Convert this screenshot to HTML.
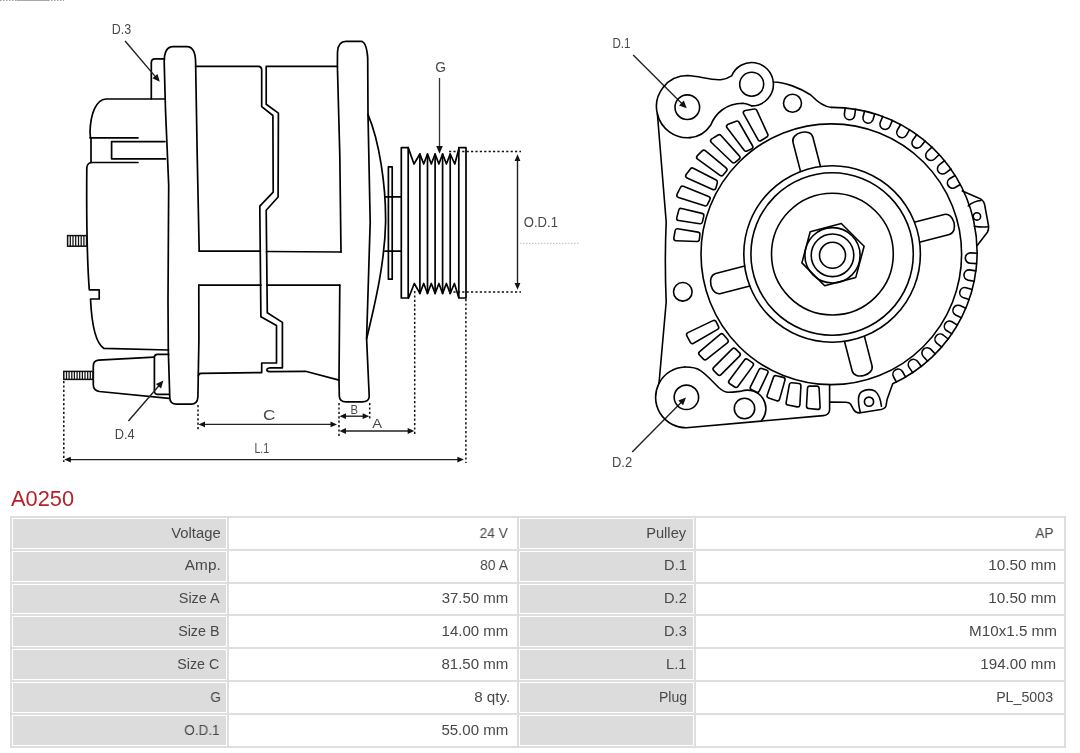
<!DOCTYPE html>
<html><head><meta charset="utf-8"><style>
html,body{margin:0;padding:0;background:#fff;width:1080px;height:753px;overflow:hidden;position:relative}
body{font-family:"Liberation Sans",sans-serif}
.title,.t{will-change:transform}
svg{position:absolute;left:0;top:0}
text{font-family:"Liberation Sans",sans-serif}
.title{position:absolute;left:11px;top:486.5px;font-size:21.8px;line-height:24px;color:#b8202a;transform-origin:0 0}
.tb{position:absolute;left:10px;top:516px;width:1056px;height:231.5px;background:#dedede}
.c{position:absolute;border:1px solid #fff;box-sizing:content-box;font-size:14px;color:#454545;text-align:right}
.t{position:absolute;font-size:14px;line-height:16px;color:#484848;white-space:nowrap;transform-origin:100% 50%}
</style></head><body>
<svg width="1080" height="480" viewBox="0 0 1080 480">
<path d="M0,0.5 L17,0.5 M48,0.5 L64,0.5" stroke="#999" stroke-width="1" stroke-dasharray="1.5,1.5"/><path d="M17,0.5 L48,0.5" stroke="#aaa" stroke-width="1"/>
<g fill="none" stroke="#000" stroke-width="1.7" stroke-linejoin="round" stroke-linecap="round">
<path d="M164.5,99 L106,99 C96,99.5 90.5,114 90,132 L90.5,138"/>
<path d="M90,137.8 L138,137.8"/>
<path d="M165,141.6 L111.6,141.6 L111.6,158.8 L165.5,158.8"/>
<path d="M91,138 L91,162.5"/>
<path d="M91,162.5 L138,162.5"/>
<path d="M91,162.5 Q87,163.5 86.8,168 C86.4,215 87.2,262 89.3,289.9 L99.2,289.9 L99.2,299 L90.5,299 C91.5,320 95,343 104,348.4 L168.5,350"/>
<path d="M164.5,58.9 L155,58.9 Q151.3,58.9 151.3,63 L151.3,98.8"/>
<path d="M199.2,251.2 L197.2,155 L195.6,62 Q195.4,46.8 187,46.6 L173,46.6 Q164.2,46.6 164.2,62 L165.5,110 L168.7,185 L168,300 L168.3,350 L169.8,398 Q170,404.2 176.5,404.2 L191,404.2 Q197.5,404.2 197.9,397 L198.3,374 L198.9,340 L198.8,285.2"/>
<path d="M154.2,357.2 L98.5,360.2 Q93.3,360.8 93.3,366 L93.3,385 Q93.5,390.5 99.4,391.5 L169,398.3"/>
<path d="M168.6,354.4 L157.5,354.4 Q154.4,354.5 154.4,357.5 L154.4,391 Q154.6,394.4 158,394.4 L168.9,394.4"/>
<path d="M195.6,66.4 L258.5,66.4 Q261.7,66.6 261.7,70 L261.7,106.7 L272.9,115.5 L273.2,192.2 L259.8,206.1 L260.9,316.8 L276.5,325.6 L276.5,363 L261.7,363 L261.7,372.6 L201,373.3 Q198.6,373.6 198.3,376"/>
<path d="M337.4,66.4 L266.2,66.4 L266.2,104.3 L278.4,113.1 L278.1,197 L266.2,210.2 L267.3,312.8 L282.4,322.4 L282.4,367.8 L270,367.8 Q266.5,368.3 267,370.5 Q267.8,371.8 270.5,371.6 L305.5,371.3 L339,380.1"/>
<path d="M199.2,251.2 L259.8,251.2"/>
<path d="M266.4,251.5 L341.1,252"/>
<path d="M198.8,285.2 L260.9,285.2"/>
<path d="M267.1,285.2 L339.8,285.2"/>
<path d="M341,252 L339.8,155 L337.4,66 L337.5,52 Q338,41.4 346,41.4 L361,41.4 Q366.5,41.6 367.7,57.9 L368,114.7 L370.2,222 L366.6,338.7 L369.2,396 Q369.4,401.8 362,401.8 L346,401.8 Q339.5,401.8 339.3,396 L339,380 L339.8,285.2"/>
<path d="M368,114.7 C379,140 386,185 385.6,222 C385,260 376,300 366.6,338.7"/>
<path d="M385.5,196.9 L401.3,196.9 M385,251.2 L401.3,251.2"/>
<path d="M388.4,279.2 L388.4,166.9 L392.2,166.9 L392.2,279.2 Z"/>
<path d="M401.3,298 L401.3,147.6 L408.2,147.6 L408.2,298 Z"/>
<path d="M458.8,298 L458.8,147.6 L466,147.6 L466,298 Z"/>
<path d="M408.2,147.6 L414,164 L419.9,154 L423.7,164 L427.5,154 L431.3,164 L435.1,154 L438.9,164 L442.6,154 L446.4,164 L450.2,154 L454.8,164 L458.8,149"/>
<path d="M408.6,298 L414.3,283.5 L419.9,293.4 L423.7,283.5 L427.5,293.4 L431.3,283.5 L435.1,293.4 L438.9,283.5 L442.6,293.4 L446.4,283.5 L450.2,293.4 L454.4,283.5 L458.6,297"/>
<path d="M419.9,154 L419.9,293.4"/>
<path d="M427.5,154 L427.5,293.4"/>
<path d="M435.1,154 L435.1,293.4"/>
<path d="M442.6,154 L442.6,293.4"/>
<path d="M450.2,154 L450.2,293.4"/>
</g>
<rect x="67.6" y="235.6" width="19.0" height="10.6" fill="none" stroke="#111" stroke-width="1.5"/><path d="M70.3,235.6 L70.3,246.2" stroke="#111" stroke-width="1.25"/><path d="M73.0,235.6 L73.0,246.2" stroke="#111" stroke-width="1.25"/><path d="M75.7,235.6 L75.7,246.2" stroke="#111" stroke-width="1.25"/><path d="M78.5,235.6 L78.5,246.2" stroke="#111" stroke-width="1.25"/><path d="M81.2,235.6 L81.2,246.2" stroke="#111" stroke-width="1.25"/><path d="M83.9,235.6 L83.9,246.2" stroke="#111" stroke-width="1.25"/>
<rect x="63.8" y="371.4" width="29.2" height="8.0" fill="none" stroke="#111" stroke-width="1.5"/><path d="M66.5,371.4 L66.5,379.4" stroke="#111" stroke-width="1.25"/><path d="M69.1,371.4 L69.1,379.4" stroke="#111" stroke-width="1.25"/><path d="M71.8,371.4 L71.8,379.4" stroke="#111" stroke-width="1.25"/><path d="M74.4,371.4 L74.4,379.4" stroke="#111" stroke-width="1.25"/><path d="M77.1,371.4 L77.1,379.4" stroke="#111" stroke-width="1.25"/><path d="M79.7,371.4 L79.7,379.4" stroke="#111" stroke-width="1.25"/><path d="M82.4,371.4 L82.4,379.4" stroke="#111" stroke-width="1.25"/><path d="M85.0,371.4 L85.0,379.4" stroke="#111" stroke-width="1.25"/><path d="M87.7,371.4 L87.7,379.4" stroke="#111" stroke-width="1.25"/><path d="M90.3,371.4 L90.3,379.4" stroke="#111" stroke-width="1.25"/>
<g fill="none" stroke="#111" stroke-width="1.5" stroke-dasharray="2.2,2.2">
<path d="M63.8,381 L63.8,462"/>
<path d="M198,405 L198,430"/>
<path d="M339,403 L339,436"/>
<path d="M369.7,403 L369.7,420"/>
<path d="M414.7,291 L414.7,436"/>
<path d="M465.9,299 L465.9,463"/>
<path d="M449,151.6 L521,151.6"/>
<path d="M449,291.9 L521,291.9"/>
</g>
<path d="M520,243.3 L580,243.3" stroke="#bbb" stroke-width="1" stroke-dasharray="1.5,1.5" fill="none"/>
<path d="M203.5,424.4 L332,424.4" stroke="#222" stroke-width="1.4" fill="none"/><path d="M198.5,424.4 L205.0,421.5 L205.0,427.29999999999995 Z" fill="#111"/><path d="M337,424.4 L330.5,421.5 L330.5,427.29999999999995 Z" fill="#111"/>
<path d="M344.5,416.2 L364.2,416.2" stroke="#222" stroke-width="1.4" fill="none"/><path d="M339.5,416.2 L346.0,413.3 L346.0,419.09999999999997 Z" fill="#111"/><path d="M369.2,416.2 L362.7,413.3 L362.7,419.09999999999997 Z" fill="#111"/>
<path d="M344.5,431 L409.2,431" stroke="#222" stroke-width="1.4" fill="none"/><path d="M339.5,431 L346.0,428.1 L346.0,433.9 Z" fill="#111"/><path d="M414.2,431 L407.7,428.1 L407.7,433.9 Z" fill="#111"/>
<path d="M69.3,459.6 L458.9,459.6" stroke="#222" stroke-width="1.4" fill="none"/><path d="M64.3,459.6 L70.8,456.70000000000005 L70.8,462.5 Z" fill="#111"/><path d="M463.9,459.6 L457.4,456.70000000000005 L457.4,462.5 Z" fill="#111"/>
<path d="M517.5,160 L517.5,284" stroke="#222" stroke-width="1.4" fill="none"/>
<path d="M517.5,154.3 L514.6,161 L520.4,161 Z" fill="#111"/>
<path d="M517.5,289.7 L514.6,283 L520.4,283 Z" fill="#111"/>
<path d="M439.5,78 L439.5,148" stroke="#333" stroke-width="1.3" fill="none"/>
<path d="M439.5,153.8 L436.2,146 L442.8,146 Z" fill="#111"/>
<path d="M125.1,41.0 L156.2,77.6" stroke="#222" stroke-width="1.4" fill="none"/><path d="M159.8,81.8 L152.4,78.3 L157.5,73.9 Z" fill="#111"/>
<path d="M128.4,421.0 L159.8,384.7" stroke="#222" stroke-width="1.4" fill="none"/><path d="M163.4,380.5 L161.1,388.4 L155.9,384.0 Z" fill="#111"/>
<path d="M633.2,55.1 L682.8,104.4" stroke="#222" stroke-width="1.4" fill="none"/><path d="M686.7,108.3 L679.0,105.4 L683.8,100.6 Z" fill="#111"/>
<path d="M632.2,451.9 L682.1,401.4" stroke="#222" stroke-width="1.4" fill="none"/><path d="M686.0,397.5 L683.1,405.2 L678.3,400.4 Z" fill="#111"/>
<g fill="none" stroke="#000" stroke-width="6.2" stroke-linejoin="round">
<path d="M745.7,112.8 L754.7,111.3 L765.6,135.1 L760.0,138.6 Z"/>
<path d="M728.9,126.4 L737.0,123.4 L750.5,146.9 L746.0,148.9 Z"/>
<path d="M713.0,140.8 L719.3,137.0 L737.6,157.4 L733.7,160.6 Z"/>
<path d="M699.0,157.3 L703.8,152.5 L724.6,169.7 L721.4,173.5 Z"/>
<path d="M688.0,175.8 L692.2,170.3 L715.1,182.1 L713.7,187.4 Z"/>
<path d="M679.2,195.2 L682.5,188.5 L707.8,198.6 L705.3,203.6 Z"/>
<path d="M679.0,218.2 L681.0,210.7 L701.5,215.6 L700.2,221.4 Z"/>
<path d="M676.1,238.4 L677.4,231.1 L697.6,234.4 L697.1,239.2 Z"/>
<path d="M688.9,334.7 L692.4,341.3 L716.4,327.4 L714.0,322.7 Z"/>
<path d="M701.1,353.4 L705.1,357.5 L725.9,341.1 L721.6,336.1 Z"/>
<path d="M715.4,369.0 L719.4,373.0 L737.9,354.5 L733.9,350.5 Z"/>
<path d="M731.0,381.8 L736.0,385.1 L751.1,364.5 L746.3,361.3 Z"/>
<path d="M752.6,387.6 L757.3,389.9 L765.7,372.2 L761.1,370.7 Z"/>
<path d="M769.4,395.8 L777.4,398.5 L782.7,379.6 L775.7,377.9 Z"/>
<path d="M788.4,402.8 L797.6,404.6 L798.6,385.8 L791.6,385.0 Z"/>
<path d="M808.8,406.2 L817.8,407.1 L816.8,388.4 L809.8,388.4 Z"/>
</g><g fill="#fff" stroke="#fff" stroke-width="3.0" stroke-linejoin="round">
<path d="M745.7,112.8 L754.7,111.3 L765.6,135.1 L760.0,138.6 Z"/>
<path d="M728.9,126.4 L737.0,123.4 L750.5,146.9 L746.0,148.9 Z"/>
<path d="M713.0,140.8 L719.3,137.0 L737.6,157.4 L733.7,160.6 Z"/>
<path d="M699.0,157.3 L703.8,152.5 L724.6,169.7 L721.4,173.5 Z"/>
<path d="M688.0,175.8 L692.2,170.3 L715.1,182.1 L713.7,187.4 Z"/>
<path d="M679.2,195.2 L682.5,188.5 L707.8,198.6 L705.3,203.6 Z"/>
<path d="M679.0,218.2 L681.0,210.7 L701.5,215.6 L700.2,221.4 Z"/>
<path d="M676.1,238.4 L677.4,231.1 L697.6,234.4 L697.1,239.2 Z"/>
<path d="M688.9,334.7 L692.4,341.3 L716.4,327.4 L714.0,322.7 Z"/>
<path d="M701.1,353.4 L705.1,357.5 L725.9,341.1 L721.6,336.1 Z"/>
<path d="M715.4,369.0 L719.4,373.0 L737.9,354.5 L733.9,350.5 Z"/>
<path d="M731.0,381.8 L736.0,385.1 L751.1,364.5 L746.3,361.3 Z"/>
<path d="M752.6,387.6 L757.3,389.9 L765.7,372.2 L761.1,370.7 Z"/>
<path d="M769.4,395.8 L777.4,398.5 L782.7,379.6 L775.7,377.9 Z"/>
<path d="M788.4,402.8 L797.6,404.6 L798.6,385.8 L791.6,385.0 Z"/>
<path d="M808.8,406.2 L817.8,407.1 L816.8,388.4 L809.8,388.4 Z"/>
</g>
<g fill="none" stroke="#000" stroke-width="1.6" stroke-linejoin="round" stroke-linecap="round">
<path d="M659,383.3 L666.2,302 Q664.5,262 666.2,222 L657.4,114 A31,31 0 0 1 687.5,75.5 C700,76 712,81 722,79.5 C727,78.8 729,77.5 731.7,75.8 A21.7,21.7 0 0 1 773.3,82 C785,82 800,88 810.8,95 C818,102.5 824,107 831.7,107.5"/>
<path d="M831.7,107.5 L831.7,107.4 A144.8,144.8 0 0 1 892.7,383.8 L887,399.8 L886.1,405.4 Q885.5,408.5 881,409.5 L860.5,412.8 Q855,413.2 852.8,408.1 L850.5,404 Q849,402.2 846,402.2 L829.6,402.1"/>
<path d="M962.3,190.9 L978.5,198 Q983,199.5 984.5,204 L988.6,226.2 Q988.8,230 987.4,232.2 L977.2,245.4"/>
<path d="M829.6,385 L829.6,410 Q829,415 823.1,415.6 L686.4,427.8 A30.5,30.5 0 0 1 659,383.3 A30.5,30.5 0 0 1 684.9,367"/>
<path d="M684.9,367 C692,367 697,368 700.5,370.6 C706,374 712,381 718.6,387.5 C722,390.5 725,392.3 728.2,392.3 C734,392.5 738,391.2 741.5,391.1 A18.5,18.5 0 0 1 761.5,420.6"/>
<path d="M690,137.6 C700,137 706,132 710.8,125 C713.5,118 716,114.5 722,110 C728,105.5 735,103.5 743,103.3 C748,103.6 751,105.8 751.7,105.9"/>
<path d="M675.0,107.2 A12.3,12.3 0 1 0 699.5999999999999,107.2 A12.3,12.3 0 1 0 675.0,107.2 Z"/>
<path d="M739.7,84.2 A12.0,12.0 0 1 0 763.7,84.2 A12.0,12.0 0 1 0 739.7,84.2 Z"/>
<path d="M783.5,103.3 A9.0,9.0 0 1 0 801.5,103.3 A9.0,9.0 0 1 0 783.5,103.3 Z"/>
<path d="M673.5,291.8 A9.3,9.3 0 1 0 692.0999999999999,291.8 A9.3,9.3 0 1 0 673.5,291.8 Z"/>
<path d="M674.1999999999999,397.3 A12.2,12.2 0 1 0 698.6,397.3 A12.2,12.2 0 1 0 674.1999999999999,397.3 Z"/>
<path d="M734.3,408.5 A10.2,10.2 0 1 0 754.7,408.5 A10.2,10.2 0 1 0 734.3,408.5 Z"/>
<path d="M864.4,401.7 A4.6,4.6 0 1 0 873.6,401.7 A4.6,4.6 0 1 0 864.4,401.7 Z"/>
<path d="M973.1999999999999,216.4 A3.7,3.7 0 1 0 980.6,216.4 A3.7,3.7 0 1 0 973.1999999999999,216.4 Z"/>
<path d="M657.4,114 A31,31 0 0 0 690,137.6"/>
<path d="M773.3,82 A21.7,21.7 0 0 1 751.7,105.9"/>
<path d="M968.3,205.9 Q974,201 980.8,200.5"/>
<path d="M974.3,226.2 Q981,227.5 988,226.8"/>
<path d="M860.2,411.9 Q856,395 862,391.5 Q868,388 875,391 Q880,395 881.5,406.3"/>
<path d="M701.0,254.25 A130.3,130.3 0 1 0 961.5999999999999,254.25 A130.3,130.3 0 1 0 701.0,254.25 Z"/>
<path d="M743.8000000000001,254.0 A88.3,88.3 0 1 0 920.4,254.0 A88.3,88.3 0 1 0 743.8000000000001,254.0 Z"/>
<path d="M750.9,254.0 A81.2,81.2 0 1 0 913.3000000000001,254.0 A81.2,81.2 0 1 0 750.9,254.0 Z"/>
<path d="M771.5,254.1 A60.9,60.9 0 1 0 893.3,254.1 A60.9,60.9 0 1 0 771.5,254.1 Z"/>
<path d="M804.9,255.3 A27.6,27.6 0 1 0 860.1,255.3 A27.6,27.6 0 1 0 804.9,255.3 Z"/>
<path d="M811.2,255.3 A21.3,21.3 0 1 0 853.8,255.3 A21.3,21.3 0 1 0 811.2,255.3 Z"/>
<path d="M819.5,255.3 A13.0,13.0 0 1 0 845.5,255.3 A13.0,13.0 0 1 0 819.5,255.3 Z"/>
<path d="M864.1,246.3 L855.8,277.4 L824.7,285.7 L801.9,262.9 L810.2,231.8 L841.3,223.5 Z"/>
<path d="M920.3,241.9 L949.3,234.4 C959.0,231.9 953.8,212.0 944.2,214.5 L915.1,222.0"/>
<path d="M844.6,341.8 L852.1,370.8 C854.6,380.5 874.5,375.3 872.0,365.7 L864.5,336.6"/>
<path d="M744.7,266.1 L715.7,273.6 C706.0,276.1 711.2,296.0 720.8,293.5 L749.9,286.0"/>
<path d="M820.4,166.2 L812.9,137.2 C810.4,127.5 790.5,132.7 793.0,142.3 L800.5,171.4"/>
<path d="M855.5,109.2 L854.7,115.5 A5.2,5.2 0 0 1 844.4,114.2 L845.2,107.9"/>
<path d="M874.7,113.7 L873.0,119.8 A5.2,5.2 0 0 1 863.0,117.2 L864.6,111.0"/>
<path d="M892.4,120.4 L889.9,126.3 A5.2,5.2 0 0 1 880.3,122.3 L882.8,116.4"/>
<path d="M909.6,129.7 L906.4,135.2 A5.2,5.2 0 0 1 897.4,130.0 L900.6,124.5"/>
<path d="M925.1,141.0 L921.2,146.1 A5.2,5.2 0 0 1 913.0,139.7 L916.9,134.6"/>
<path d="M939.2,154.5 L934.6,159.0 A5.2,5.2 0 0 1 927.3,151.5 L931.9,147.1"/>
<path d="M950.9,169.0 L945.8,172.9 A5.2,5.2 0 0 1 939.5,164.6 L944.6,160.7"/>
<path d="M960.3,184.5 L954.7,187.7 A5.2,5.2 0 0 1 949.6,178.7 L955.1,175.5"/>
<path d="M976.6,263.6 L970.3,263.3 A5.2,5.2 0 0 1 970.7,252.9 L977.1,253.2"/>
<path d="M974.2,281.2 L967.8,280.1 A5.2,5.2 0 0 1 969.6,269.9 L975.9,270.9"/>
<path d="M969.2,299.5 L963.0,297.6 A5.2,5.2 0 0 1 966.1,287.7 L972.2,289.5"/>
<path d="M961.4,317.7 L955.6,315.0 A5.2,5.2 0 0 1 960.0,305.6 L965.8,308.3"/>
<path d="M951.9,333.9 L946.5,330.5 A5.2,5.2 0 0 1 952.0,321.7 L957.4,325.1"/>
<path d="M941.7,347.1 L936.7,343.1 A5.2,5.2 0 0 1 943.2,335.0 L948.2,339.0"/>
<path d="M927.7,361.2 L923.3,356.5 A5.2,5.2 0 0 1 930.9,349.4 L935.3,354.0"/>
<path d="M912.8,372.6 L909.1,367.4 A5.2,5.2 0 0 1 917.5,361.3 L921.3,366.5"/>
<path d="M896.4,382.1 L893.4,376.5 A5.2,5.2 0 0 1 902.5,371.5 L905.6,377.1"/>
</g>
<g style="will-change:transform"><text x="111.7" y="34.1" textLength="19.4" lengthAdjust="spacingAndGlyphs" font-size="14" fill="#484848">D.3</text>
<text x="114.8" y="438.5" textLength="19.9" lengthAdjust="spacingAndGlyphs" font-size="14" fill="#484848">D.4</text>
<text x="263" y="420.4" textLength="12.4" lengthAdjust="spacingAndGlyphs" font-size="14" fill="#484848">C</text>
<text x="350.5" y="413.5" textLength="7.5" lengthAdjust="spacingAndGlyphs" font-size="13" fill="#484848">B</text>
<text x="372.2" y="428.2" textLength="9.8" lengthAdjust="spacingAndGlyphs" font-size="13" fill="#484848">A</text>
<text x="254.4" y="452.6" textLength="14.8" lengthAdjust="spacingAndGlyphs" font-size="14" fill="#484848">L.1</text>
<text x="435.3" y="71.8" textLength="10.7" lengthAdjust="spacingAndGlyphs" font-size="14" fill="#484848">G</text>
<text x="523.8" y="227.3" textLength="34.2" lengthAdjust="spacingAndGlyphs" font-size="14" fill="#484848">O.D.1</text>
<text x="612.5" y="47.7" textLength="18" lengthAdjust="spacingAndGlyphs" font-size="14" fill="#484848">D.1</text>
<text x="612" y="467" textLength="20.2" lengthAdjust="spacingAndGlyphs" font-size="14" fill="#484848">D.2</text></g>
</svg>
<div class="title">A0250</div>
<div class="tb"></div>
<div class="c" style="left:12px;top:518.00px;width:213.3px;height:28.8px;background:#dcdcdc"></div>
<span class="t" style="right:859.12px;top:524.60px;transform:scaleX(1.0587)">Voltage</span>
<div class="c" style="left:229.3px;top:518.00px;width:285.7px;height:28.8px;background:#fff"></div>
<span class="t" style="right:571.77px;top:524.60px;transform:scaleX(0.9782)">24 V</span>
<div class="c" style="left:519px;top:518.00px;width:173.3px;height:28.8px;background:#dcdcdc"></div>
<span class="t" style="right:393.64px;top:524.60px;transform:scaleX(1.0483)">Pulley</span>
<div class="c" style="left:696.3px;top:518.00px;width:365.7px;height:28.8px;background:#fff"></div>
<span class="t" style="right:26.14px;top:524.60px;transform:scaleX(0.9831)">AP</span>
<div class="c" style="left:12px;top:550.83px;width:213.3px;height:28.8px;background:#dcdcdc"></div>
<span class="t" style="right:858.97px;top:557.43px;transform:scaleX(1.0961)">Amp.</span>
<div class="c" style="left:229.3px;top:550.83px;width:285.7px;height:28.8px;background:#fff"></div>
<span class="t" style="right:571.85px;top:557.43px;transform:scaleX(0.9968)">80 A</span>
<div class="c" style="left:519px;top:550.83px;width:173.3px;height:28.8px;background:#dcdcdc"></div>
<span class="t" style="right:392.91px;top:557.43px;transform:scaleX(1.0415)">D.1</span>
<div class="c" style="left:696.3px;top:550.83px;width:365.7px;height:28.8px;background:#fff"></div>
<span class="t" style="right:23.90px;top:557.43px;transform:scaleX(1.0934)">10.50 mm</span>
<div class="c" style="left:12px;top:583.66px;width:213.3px;height:28.8px;background:#dcdcdc"></div>
<span class="t" style="right:860.55px;top:590.26px;transform:scaleX(1.0313)">Size A</span>
<div class="c" style="left:229.3px;top:583.66px;width:285.7px;height:28.8px;background:#fff"></div>
<span class="t" style="right:571.40px;top:590.26px;transform:scaleX(1.0693)">37.50 mm</span>
<div class="c" style="left:519px;top:583.66px;width:173.3px;height:28.8px;background:#dcdcdc"></div>
<span class="t" style="right:392.85px;top:590.26px;transform:scaleX(1.0441)">D.2</span>
<div class="c" style="left:696.3px;top:583.66px;width:365.7px;height:28.8px;background:#fff"></div>
<span class="t" style="right:23.90px;top:590.26px;transform:scaleX(1.0934)">10.50 mm</span>
<div class="c" style="left:12px;top:616.49px;width:213.3px;height:28.8px;background:#dcdcdc"></div>
<span class="t" style="right:860.67px;top:623.09px;transform:scaleX(1.0207)">Size B</span>
<div class="c" style="left:229.3px;top:616.49px;width:285.7px;height:28.8px;background:#fff"></div>
<span class="t" style="right:571.48px;top:623.09px;transform:scaleX(1.0717)">14.00 mm</span>
<div class="c" style="left:519px;top:616.49px;width:173.3px;height:28.8px;background:#dcdcdc"></div>
<span class="t" style="right:392.88px;top:623.09px;transform:scaleX(1.0432)">D.3</span>
<div class="c" style="left:696.3px;top:616.49px;width:365.7px;height:28.8px;background:#fff"></div>
<span class="t" style="right:23.40px;top:623.09px;transform:scaleX(1.0855)">M10x1.5 mm</span>
<div class="c" style="left:12px;top:649.32px;width:213.3px;height:28.8px;background:#dcdcdc"></div>
<span class="t" style="right:860.37px;top:655.92px;transform:scaleX(1.0154)">Size C</span>
<div class="c" style="left:229.3px;top:649.32px;width:285.7px;height:28.8px;background:#fff"></div>
<span class="t" style="right:571.55px;top:655.92px;transform:scaleX(1.0737)">81.50 mm</span>
<div class="c" style="left:519px;top:649.32px;width:173.3px;height:28.8px;background:#dcdcdc"></div>
<span class="t" style="right:393.24px;top:655.92px;transform:scaleX(1.0493)">L.1</span>
<div class="c" style="left:696.3px;top:649.32px;width:365.7px;height:28.8px;background:#fff"></div>
<span class="t" style="right:23.63px;top:655.92px;transform:scaleX(1.0807)">194.00 mm</span>
<div class="c" style="left:12px;top:682.15px;width:213.3px;height:28.8px;background:#dcdcdc"></div>
<span class="t" style="right:859.09px;top:688.75px;transform:scaleX(0.9644)">G</span>
<div class="c" style="left:229.3px;top:682.15px;width:285.7px;height:28.8px;background:#fff"></div>
<span class="t" style="right:570.31px;top:688.75px;transform:scaleX(1.0862)">8 qty.</span>
<div class="c" style="left:519px;top:682.15px;width:173.3px;height:28.8px;background:#dcdcdc"></div>
<span class="t" style="right:392.96px;top:688.75px;transform:scaleX(1.0012)">Plug</span>
<div class="c" style="left:696.3px;top:682.15px;width:365.7px;height:28.8px;background:#fff"></div>
<span class="t" style="right:26.55px;top:688.75px;transform:scaleX(1.0156)">PL_5003</span>
<div class="c" style="left:12px;top:714.98px;width:213.3px;height:28.8px;background:#dcdcdc"></div>
<span class="t" style="right:860.30px;top:721.58px;transform:scaleX(0.9659)">O.D.1</span>
<div class="c" style="left:229.3px;top:714.98px;width:285.7px;height:28.8px;background:#fff"></div>
<span class="t" style="right:571.58px;top:721.58px;transform:scaleX(1.0739)">55.00 mm</span>
<div class="c" style="left:519px;top:714.98px;width:173.3px;height:28.8px;background:#dcdcdc"></div>
<div class="c" style="left:696.3px;top:714.98px;width:365.7px;height:28.8px;background:#fff"></div>
</body></html>
